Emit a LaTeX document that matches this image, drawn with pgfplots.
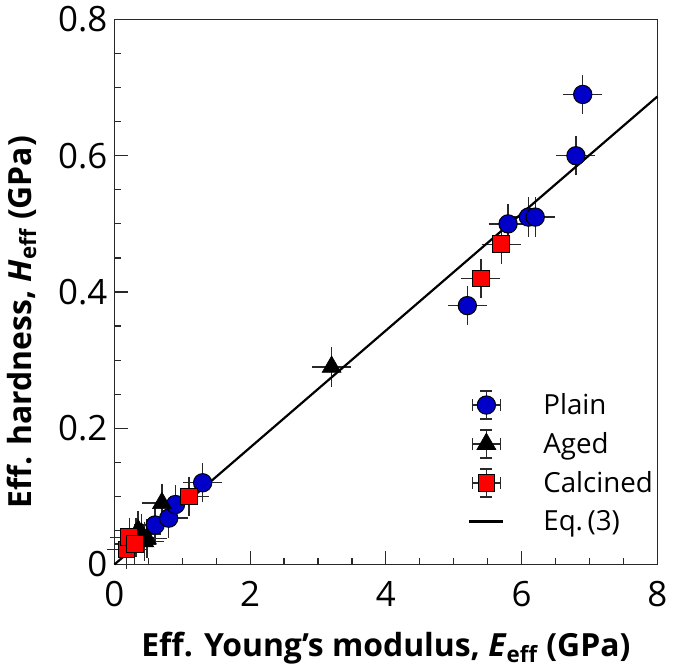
\documentclass[border=0pt]{standalone}
\usepackage{fontspec}
\setmainfont{Open Sans}
\usepackage{pgfplots}
\pgfplotsset{compat=1.18}

\definecolor{plainblue}{RGB}{0,0,200}
\definecolor{barcol}{RGB}{40,40,40}

% legend image: marker with its error bars
\pgfplotsset{errleg/.style={legend image code/.code={
  \draw[barcol, line width=0.7pt]
    (0.3cm-7pt,0pt) -- (0.3cm+7pt,0pt)
    (0.3cm,-7pt) -- (0.3cm,7pt)
    (0.3cm-7pt,-3pt) -- (0.3cm-7pt,3pt)
    (0.3cm+7pt,-3pt) -- (0.3cm+7pt,3pt)
    (0.3cm-3pt,-7pt) -- (0.3cm+3pt,-7pt)
    (0.3cm-3pt,7pt) -- (0.3cm+3pt,7pt);
  \draw[mark repeat=2, mark phase=2] plot coordinates {(0cm,0cm) (0.3cm,0cm) (0.6cm,0cm)};
}}}

\pgfplotsset{ebars/.style={
  only marks,
  error bars/x dir=both, error bars/x fixed=0.2,
  error bars/y dir=both, error bars/y fixed=0.02,
  error bars/error bar style={barcol, line width=0.7pt},
  error bars/error mark options={barcol, line width=0.7pt, mark size=3pt},
}}

\begin{document}
\begin{tikzpicture}
\begin{axis}[
  scale only axis,
  width=272.5pt, height=273.5pt,
  xmin=0, xmax=8, ymin=0, ymax=0.8,
  xtick={0,2,4,6,8}, ytick={0,0.2,0.4,0.6,0.8},
  minor x tick num=3, minor y tick num=3,
  tick pos=left, tick align=inside,
  major tick length=7pt, minor tick length=3.5pt,
  tick style={barcol, line width=0.6pt},
  axis line style={barcol, line width=0.8pt},
  clip=false,
  /pgf/number format/assume math mode=true,
  ticklabel style={font=\fontsize{17.5}{20}\selectfont},
  yticklabel style={/pgf/number format/fixed, /pgf/number format/precision=1},
  xticklabel shift=5pt,
  xlabel={\bfseries Eff. Young\symbol{39}s modulus, \textit{E}\textsubscript{eff} (GPa)},
  ylabel={\bfseries Eff. hardness, \textit{H}\textsubscript{eff} (GPa)},
  label style={font=\fontsize{16}{19}\selectfont},
  xlabel style={at={(axis description cs:0.5,-0.154)}, anchor=center},
  ylabel style={at={(axis description cs:-0.171,0.445)}, anchor=center},
  legend style={draw=none, fill=none, at={(rel axis cs:0.64,0.33)}, anchor=north west,
    font=\fontsize{13.9}{16}\selectfont, row sep=3.5pt, column sep=17.5pt},
  legend cell align=left,
]
% Plain
\addplot+[ebars, errleg, mark=*, mark size=4.6pt,
  mark options={fill=plainblue, draw=black, line width=0.5pt}]
  coordinates {
  (0.6,0.058) (0.8,0.068) (0.9,0.088) (1.3,0.12)
  (5.2,0.38) (5.8,0.50) (6.1,0.51) (6.2,0.51) (6.8,0.60) (6.9,0.69)};
\addlegendentry{Plain}
% Aged
\addplot+[ebars, errleg, mark=triangle*, mark size=5.5pt,
  mark options={fill=black, draw=black, line width=0.3pt}]
  coordinates {
  (0.32,0.04) (0.35,0.05) (0.40,0.045) (0.44,0.034) (0.48,0.038)
  (0.7,0.09) (3.2,0.29)};
\addlegendentry{Aged}
% Calcined
\addplot+[ebars, errleg, mark=square*, mark size=4.2pt,
  mark options={fill=red, draw=black, line width=0.5pt}]
  coordinates {
  (0.18,0.022) (0.22,0.040) (0.3,0.03) (1.1,0.10) (5.4,0.42) (5.7,0.47)};
\addlegendentry{Calcined}
% Eq. (3)
\addplot[black, line width=1.1pt, mark=none] coordinates {(0,0) (8,0.687)};
\addlegendentry{Eq.\,(3)}
\end{axis}
\end{tikzpicture}
\end{document}
